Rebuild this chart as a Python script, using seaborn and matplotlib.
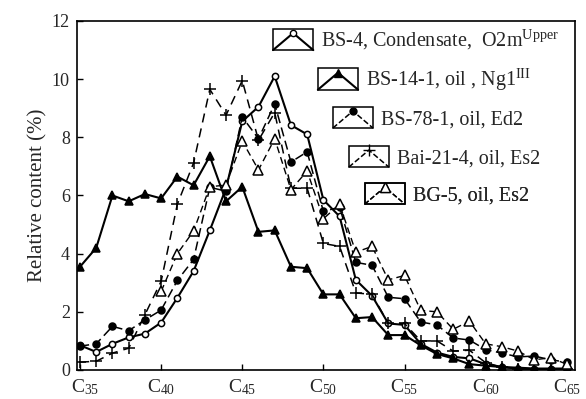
import numpy as np
import pandas as pd
import matplotlib
matplotlib.use("Agg")
import matplotlib.pyplot as plt
import matplotlib.transforms as mtransforms
import seaborn as sns
from matplotlib.legend_handler import HandlerBase
from matplotlib.lines import Line2D
from matplotlib.patches import Rectangle

# ---------------- data ----------------
carbon = np.arange(35, 66)  # C35 .. C65

bs4 = [0.85, 0.62, 0.90, 1.12, 1.25, 1.63, 2.48, 3.40, 4.80, 6.25,
       8.55, 9.05, 10.10, 8.42, 8.10, 5.85, 5.28, 3.10, 2.55, 1.60,
       1.55, 0.90, 0.60, 0.45, 0.40, 0.20, 0.10, 0.05, 0.03, 0.03, 0.03]
bs14 = [3.55, 4.20, 6.00, 5.80, 6.05, 5.90, 6.65, 6.35, 7.35, 5.80,
        6.30, 4.75, 4.80, 3.55, 3.50, 2.60, 2.60, 1.78, 1.82, 1.20,
        1.20, 0.85, 0.55, 0.40, 0.20, 0.15, 0.10, 0.08, 0.05, 0.05, 0.05]
bs78 = [0.82, 0.90, 1.50, 1.35, 1.72, 2.06, 3.08, 3.80, 6.28, 6.15,
        8.70, 7.95, 9.15, 7.15, 7.50, 5.45, 5.60, 3.70, 3.60, 2.50,
        2.45, 1.65, 1.55, 1.10, 1.03, 0.70, 0.58, 0.45, 0.48, 0.35, 0.27]
bai = [0.27, 0.30, 0.58, 0.75, 1.90, 3.05, 5.70, 7.12, 9.65, 8.76,
       9.95, 7.90, 8.85, 6.25, 6.25, 4.35, 4.25, 2.65, 2.60, 1.60,
       1.60, 1.00, 1.00, 0.65, 0.68, 0.25, 0.10, 0.05, 0.03, 0.03, 0.02]
bg5 = [np.nan, np.nan, np.nan, np.nan, np.nan, 2.70, 4.00, 4.78, 6.30, 6.36,
       7.87, 6.88, 7.95, 6.20, 6.84, 5.20, 5.70, 4.05, 4.25, 3.10,
       3.25, 2.05, 2.00, 1.40, 1.68, 0.90, 0.80, 0.65, 0.35, 0.42, 0.20]

labels = [r"BS-4, Condensate,  O2m$^{\mathrm{Upper}}$",
          r"BS-14-1, oil , Ng1$^{\mathrm{III}}$",
          "BS-78-1, oil, Ed2",
          "Bai-21-4, oil, Es2",
          "BG-5, oil, Es2"]
series = [bs4, bs14, bs78, bai, bg5]

yticks = [0, 2, 4, 6, 8, 10, 12]
xtick_vals = [35, 40, 45, 50, 55, 60, 65]

# ---------------- styles ----------------
styles = [
    dict(marker="o", ms=4.5, mfc="white", ls="-", lw=1.5),
    dict(marker="^", ms=5.5, mfc="black", ls="-", lw=1.5),
    dict(marker="o", ms=5, mfc="black", ls=(0, (6, 3)), lw=1.1),
    dict(marker="+", ms=8, mfc="black", ls=(0, (6, 4)), lw=1.1),
    dict(marker="^", ms=6.5, mfc="white", ls=(0, (5, 3)), lw=1.0),
]

sns.set_theme(style="ticks")
plt.rcParams["font.family"] = ["Liberation Serif", "DejaVu Serif"]
plt.rcParams["mathtext.fontset"] = "custom"
plt.rcParams["mathtext.rm"] = "Liberation Serif"
plt.rcParams["mathtext.it"] = "Liberation Serif:italic"
plt.rcParams["mathtext.bf"] = "Liberation Serif:bold"

fig = plt.figure(figsize=(5.86, 3.99), dpi=100)
fig.patch.set_facecolor("white")
ax = fig.add_axes([0.131, 0.0727, 0.850, 0.8747])
ax.set_facecolor("white")

for vals, lab, st in zip(series, labels, styles):
    df = pd.DataFrame({"carbon": carbon, "value": vals}).dropna()
    sns.lineplot(data=df, x="carbon", y="value", ax=ax, estimator=None,
                 errorbar=None, color="black", linewidth=st["lw"],
                 linestyle=st["ls"], marker=st["marker"],
                 markersize=st["ms"], markerfacecolor=st["mfc"],
                 markeredgecolor="black", markeredgewidth=1.1,
                 label=lab, legend=False)

ax.set_xlim(34.8, 65.5)
ax.set_ylim(0, 12)
ax.set_yticks(yticks)
ax.set_yticklabels([str(v) for v in yticks], fontsize=13)
ax.set_xticks(xtick_vals)
ax.set_xticklabels([r"$\mathrm{C}_{%d}$" % v for v in xtick_vals], fontsize=14)
ax.tick_params(direction="in", length=4, width=1.0, color="black")
ax.tick_params(axis="y", pad=5)
ax.tick_params(axis="x", pad=5)
ax.set_xlabel("")
ax.set_ylabel("Relative content (%)", fontsize=15, labelpad=3)
for sp in ax.spines.values():
    sp.set_visible(True)
    sp.set_color("black")
    sp.set_linewidth(1.2)

# nudge the first x label a little right so it clears the "0" label
first = ax.get_xticklabels()[0]
first.set_transform(first.get_transform() +
                    mtransforms.ScaledTranslation(4 / 72, 0, fig.dpi_scale_trans))


class PeakHandler(HandlerBase):
    def create_artists(self, legend, orig, xdescent, ydescent, width, height,
                       fontsize, trans):
        x0, y0 = -xdescent, -ydescent
        box = Rectangle((x0, y0), width, height, fill=False, ec="black",
                        lw=1.1, transform=trans)
        xs = [x0, x0 + 0.5 * width, x0 + width]
        ys = [y0, y0 + 0.8 * height, y0]
        ln = Line2D(xs, ys, color="black", lw=orig.get_linewidth(),
                    linestyle=orig.get_linestyle(), transform=trans)
        mk = Line2D([xs[1]], [ys[1]], marker=orig.get_marker(),
                    markersize=orig.get_markersize(),
                    markerfacecolor=orig.get_markerfacecolor(),
                    markeredgecolor="black", markeredgewidth=1.0,
                    linestyle="none", transform=trans)
        return [box, ln, mk]


handles = ax.get_lines()[:5]
# staggered legend entries (axes fraction anchors)
anchors = [(0.394, 0.946), (0.484, 0.831), (0.514, 0.722), (0.546, 0.610), (0.578, 0.504)]
for h, lab, anc in zip(handles, labels, anchors):
    leg = ax.legend([h], [lab], loc="center left", bbox_to_anchor=anc,
                    frameon=False, fontsize=14.5, handlelength=2.0,
                    handleheight=1.25, handletextpad=0.4, borderpad=0,
                    borderaxespad=0, handler_map={h: PeakHandler()})
    ax.add_artist(leg)

fig.savefig("out.png", dpi=100, facecolor="white")
